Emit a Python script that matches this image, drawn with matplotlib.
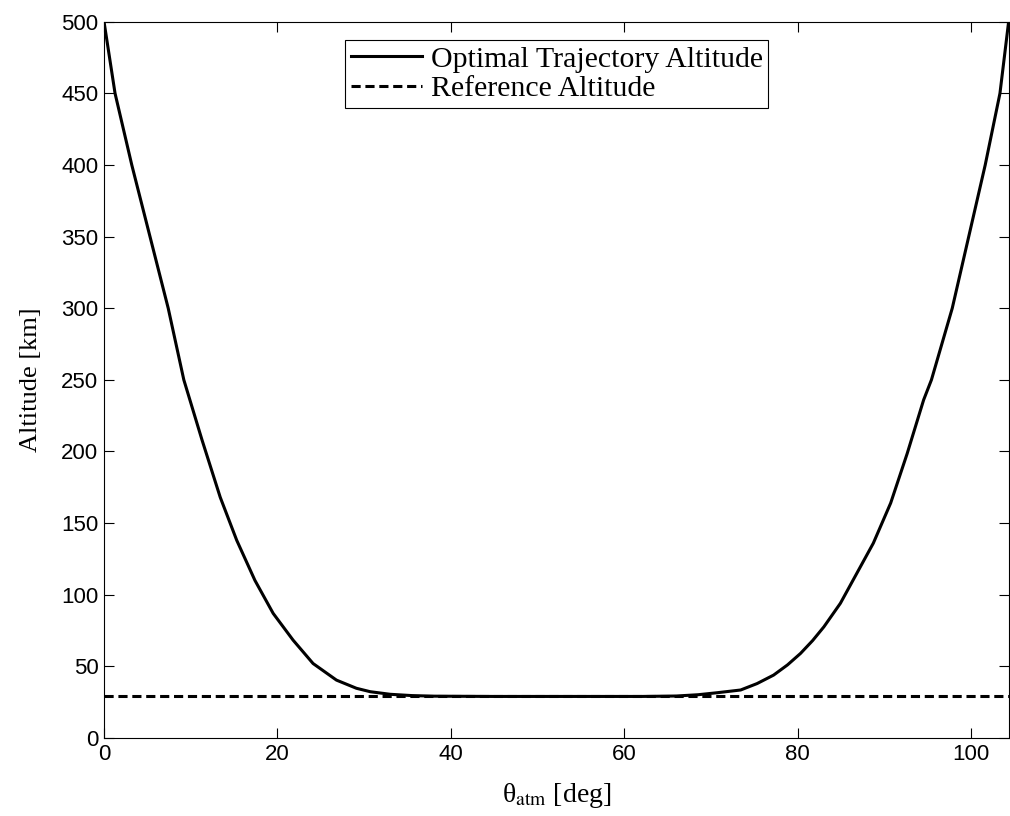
import numpy as np
import matplotlib
matplotlib.use('Agg')
import matplotlib.pyplot as plt

# values
theta = [0, 1.27, 3.2, 5.3, 7.4, 9.2, 11.3, 13.4, 15.3, 17.4, 19.5, 21.8,
         24.1, 26.8, 29.1, 30.7, 33, 35.5, 38, 45, 55, 62, 66, 68.5, 70.7,
         73.4, 75.3, 77.2, 78.8, 80.3, 81.7, 83.0, 84.9, 86.8, 88.7, 90.7,
         92.6, 94.5, 95.4, 97.8, 99.7, 101.6, 103.3, 104.3]
alt = [500, 450, 400, 350, 300, 250, 208, 168, 138, 110, 87, 68.3,
       52, 40.4, 34.7, 32.3, 30.5, 29.6, 29.2, 29, 29, 29, 29.3, 30.2, 31.6,
       33.5, 38, 43.9, 51, 59, 68, 77.6, 94, 115, 136, 164,
       198.5, 236, 250, 300, 350, 400, 450, 500]
ref_alt = 29.0

plt.rcParams['mathtext.fontset'] = 'stix'

fig = plt.figure(figsize=(10.1, 8.16), dpi=100)
ax = fig.add_axes([0.103, 0.0956, 0.8965, 0.8778])

ax.plot(theta, alt, color='black', lw=2.2, label='Optimal Trajectory Altitude')
ax.axhline(ref_alt, color='black', lw=2.2, ls=(0, (3.0, 1.55)), label='Reference Altitude')

ax.set_xlim(0, 104.4)
ax.set_ylim(0, 500)
ax.set_xticks([0, 20, 40, 60, 80, 100])
ax.set_yticks(np.arange(0, 501, 50))
ax.tick_params(direction='in', top=True, right=True, length=7, width=0.8,
               labelsize=16, pad=4)
for lab in ax.get_xticklabels() + ax.get_yticklabels():
    lab.set_fontfamily('Liberation Sans')
for s in ax.spines.values():
    s.set_linewidth(0.8)

ax.set_xlabel('θ$_{\\mathrm{atm}}$ [deg]', fontsize=20, family='Liberation Serif', labelpad=12)
ax.set_ylabel('Altitude [km]', fontsize=19, family='Liberation Serif', labelpad=14)

leg = ax.legend(loc='upper center', bbox_to_anchor=(0.5, 0.974), fancybox=False,
                edgecolor='black', framealpha=1, handlelength=2.4, handletextpad=0.28,
                borderpad=0.18, labelspacing=0.1, borderaxespad=0,
                prop={'family': 'Liberation Serif', 'size': 21.5})
leg.get_frame().set_linewidth(0.8)

fig.savefig('out.png', dpi=100)
